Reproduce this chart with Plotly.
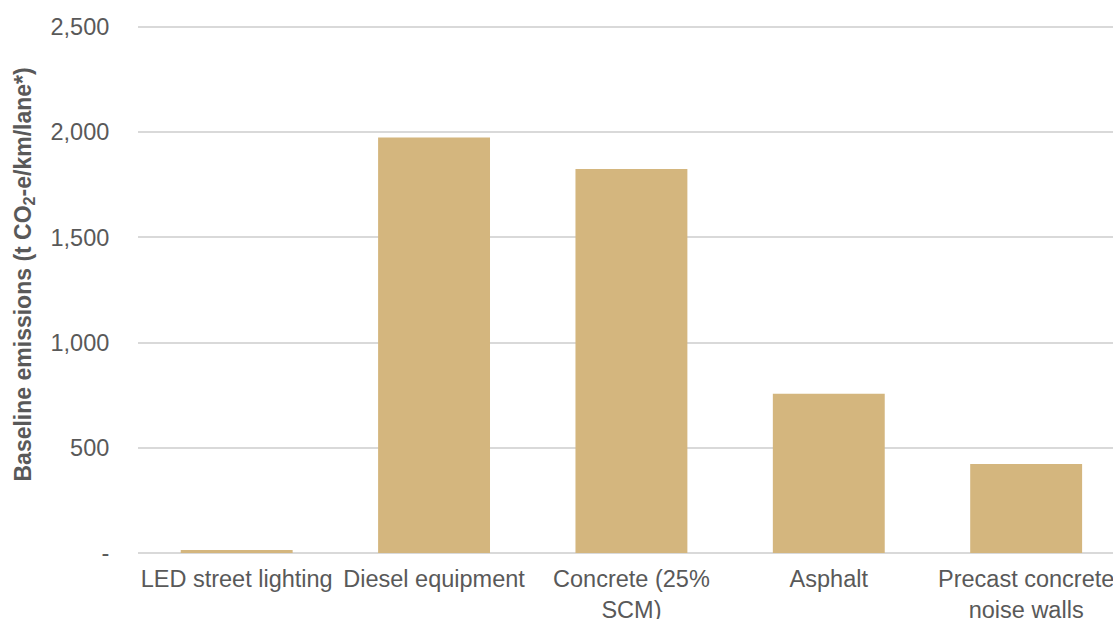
import plotly.graph_objects as go

# Baseline emissions by construction element
categories = [
    "LED street lighting",
    "Diesel equipment",
    "Concrete (25%<br>SCM)",
    "Asphalt",
    "Precast concrete<br>noise walls",
]
emissions = [14, 1975, 1825, 757, 423]

y_tick_values = [0, 500, 1000, 1500, 2000, 2500]
y_tick_labels = ["-", "500", "1,000", "1,500", "2,000", "2,500"]

bar_color = "#D4B67E"
text_color = "#595959"
grid_color = "#D9D9D9"
font_family = "Liberation Sans, Arial, sans-serif"

fig = go.Figure(
    go.Bar(
        x=list(range(len(categories))),
        y=emissions,
        marker=dict(color=bar_color, line=dict(width=0)),
        hoverinfo="skip",
    )
)

fig.update_layout(
    width=1113,
    height=619,
    margin=dict(l=138, r=0, t=26, b=66),
    paper_bgcolor="white",
    plot_bgcolor="white",
    bargap=0.433,
    showlegend=False,
    font=dict(family=font_family, color=text_color, size=23.5),
)

fig.update_xaxes(
    automargin=False,
    tickmode="array",
    tickvals=list(range(len(categories))),
    ticktext=categories,
    range=[-0.5, 4.44],
    showgrid=False,
    showline=False,
    ticks="outside",
    ticklen=5,
    tickcolor="rgba(0,0,0,0)",
    ticklabeloverflow="allow",
    tickfont=dict(size=23.5, color=text_color),
)

fig.update_yaxes(
    automargin=False,
    range=[0, 2505],
    tickmode="array",
    tickvals=y_tick_values,
    ticktext=y_tick_labels,
    showgrid=True,
    gridcolor=grid_color,
    gridwidth=1.5,
    zeroline=True,
    zerolinecolor=grid_color,
    zerolinewidth=1.5,
    showline=False,
    ticks="outside",
    ticklen=23,
    tickcolor="rgba(0,0,0,0)",
    tickfont=dict(size=23.5, color=text_color),
)

fig.add_annotation(
    text="<b>Baseline emissions (t CO<sub>2</sub>-e/km/lane*)</b>",
    xref="paper",
    yref="paper",
    x=(24 - 138) / 975,
    y=(553 - 274.5) / 527,
    xanchor="center",
    yanchor="middle",
    textangle=-90,
    showarrow=False,
    font=dict(family=font_family, size=23, color=text_color),
)

fig.write_html("out.html")
